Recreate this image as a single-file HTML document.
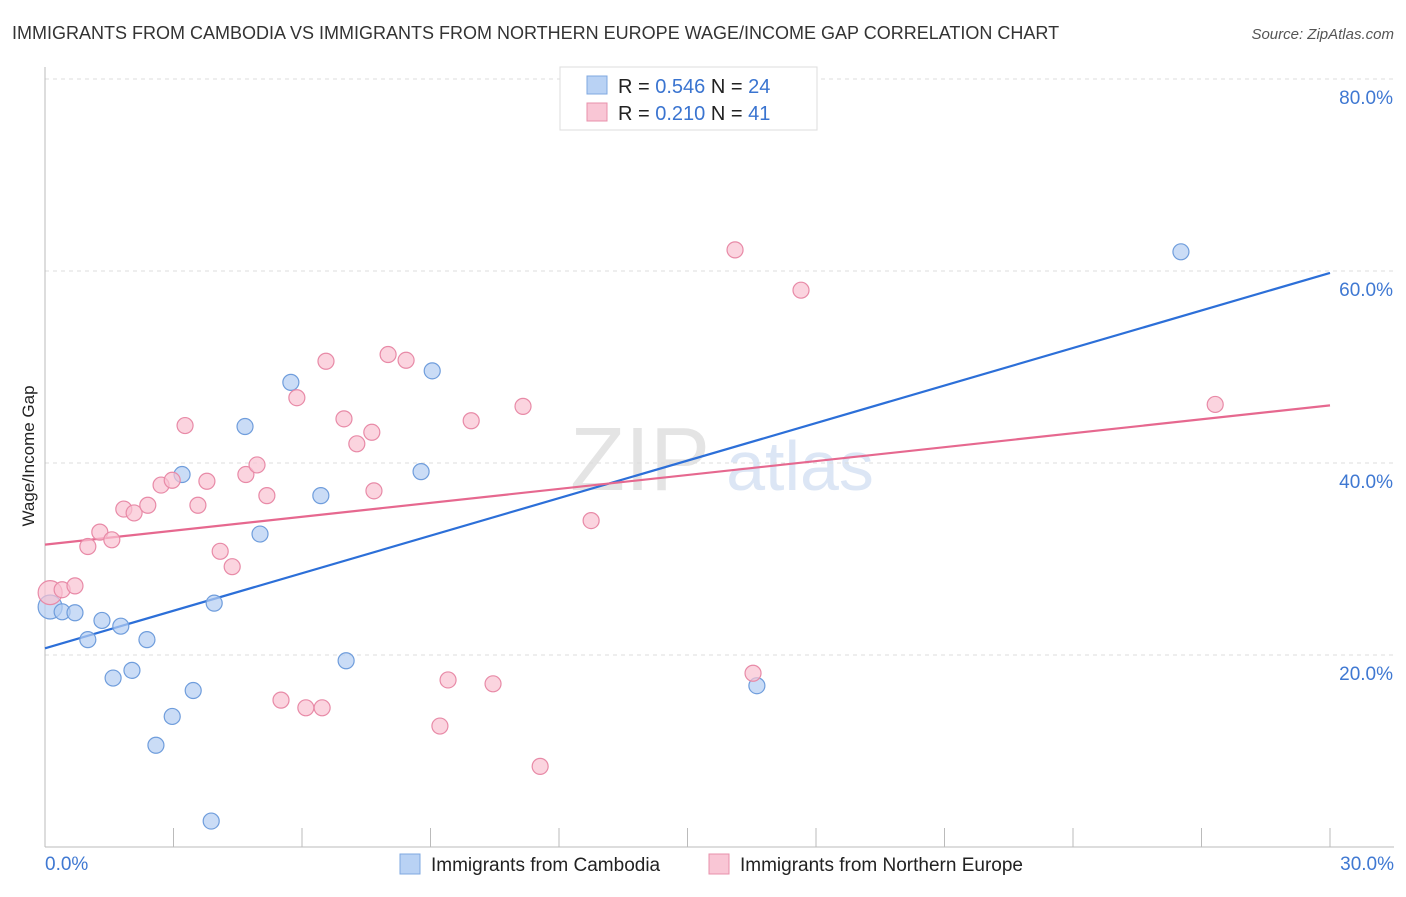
<!DOCTYPE html>
<html><head><meta charset="utf-8"><style>
body{margin:0;background:#fff;font-family:"Liberation Sans",sans-serif;}
svg text{font-family:"Liberation Sans",sans-serif;}
</style></head><body>
<svg id="chart" width="1406" height="892">
<text x="12" y="39" font-size="18" fill="#333">IMMIGRANTS FROM CAMBODIA VS IMMIGRANTS FROM NORTHERN EUROPE WAGE/INCOME GAP CORRELATION CHART</text>
<text x="1394" y="39" font-size="15" fill="#555" font-style="italic" text-anchor="end">Source: ZipAtlas.com</text>
<text x="640" y="490" font-size="90" fill="#e4e4e4" font-family="Liberation Serif" text-anchor="middle">ZIP</text>
<text x="800" y="490" font-size="70" fill="#dce6f5" text-anchor="middle">atlas</text>
<g id="grid"></g><g id="axes"></g><g id="lines"></g><g id="pts"></g>
<text transform="translate(34,456) rotate(-90)" font-size="17" fill="#222" text-anchor="middle">Wage/Income Gap</text>
<g>
<rect x="560" y="67" width="257" height="63" fill="#fff" stroke="#ddd"/>
<rect x="587" y="76" width="20" height="18" fill="#b9d2f4" stroke="#7fa8e0"/>
<rect x="587" y="103" width="20" height="18" fill="#f9c6d5" stroke="#e890ab"/>
<text x="618" y="93" font-size="20" fill="#222">R = <tspan fill="#3a74d0">0.546</tspan>   N = <tspan fill="#3a74d0">24</tspan></text>
<text x="618" y="120" font-size="20" fill="#222">R =  <tspan fill="#3a74d0">0.210</tspan>   N =  <tspan fill="#3a74d0">41</tspan></text>
</g>
<g>
<rect x="400" y="854" width="20" height="20" fill="#b9d2f4" stroke="#7fa8e0"/>
<text x="431" y="871" font-size="19" fill="#222">Immigrants from Cambodia</text>
<rect x="709" y="854" width="20" height="20" fill="#f9c6d5" stroke="#e890ab"/>
<text x="740" y="871" font-size="19" fill="#222">Immigrants from Northern Europe</text>
</g>
</svg>
<script>
const blueX=[0.12,0.40,0.70,1.00,1.33,1.59,1.77,2.03,2.38,2.59,2.97,3.20,3.46,3.88,3.95,4.67,5.02,5.74,6.44,7.03,8.78,9.04,16.62,26.52];
const blueY=[25.0,24.5,24.4,21.6,23.6,17.6,23.0,18.4,21.6,10.6,13.6,38.8,16.3,2.7,25.4,43.8,32.6,48.4,36.6,19.4,39.1,49.6,16.8,62.0];
const pinkX=[0.12,0.40,0.70,1.00,1.28,1.56,1.84,2.08,2.40,2.71,2.97,3.27,3.57,3.78,4.09,4.37,4.69,4.95,5.18,5.51,5.88,6.09,6.47,6.56,6.98,7.28,7.63,7.68,8.01,8.43,9.22,9.41,9.95,10.46,11.16,11.56,12.75,16.11,16.53,17.65,27.32];
const pinkY=[26.5,26.8,27.2,31.3,32.8,32.0,35.2,34.8,35.6,37.7,38.2,43.9,35.6,38.1,30.8,29.2,38.8,39.8,36.6,15.3,46.8,14.5,14.5,50.6,44.6,42.0,43.2,37.1,51.3,50.7,12.6,17.4,44.4,17.0,45.9,8.4,34.0,62.2,18.1,58.0,46.1];
const blueLine=[20.7,59.8];
const pinkLine=[31.5,46.0];
const yTicks=[20,40,60,80];
const xTickLabels=["0.0%","30.0%"];
const NS="http://www.w3.org/2000/svg";
const sx=v=>45+v*(1330-45)/30;
const sy=v=>847-v*9.6;
function mk(tag,attrs,parent){const e=document.createElementNS(NS,tag);for(const k in attrs)e.setAttribute(k,attrs[k]);document.getElementById(parent).appendChild(e);return e;}
yTicks.forEach(t=>{
 const g=mk('line',{x1:45,x2:1394,y1:sy(t),y2:sy(t),stroke:'#ddd','stroke-dasharray':'4,4'},'grid');
 
 
 const l=mk('text',{x:1393,y:sy(t)+25,'font-size':19,fill:'#3f78d2','text-anchor':'end'},'grid');
 l.textContent=t.toFixed(1)+'%';
 
 
});
const ya=mk('line',{x1:45,x2:45,y1:67,y2:847,stroke:'#bbb'},'axes');


const xa=mk('line',{x1:45,x2:1394,y1:847,y2:847,stroke:'#bbb'},'axes');


for(let i=1;i<=10;i++){
 const t=mk('line',{x1:sx(i*3),x2:sx(i*3),y1:828,y2:847,stroke:'#bbb'},'axes');
 
 
}
[[0,'start',45],[30,'end',1394]].forEach((d,i)=>{
 const l=mk('text',{x:d[2],y:870,'font-size':19,fill:'#3f78d2','text-anchor':d[1]},'axes');
 l.textContent=xTickLabels[i];
 
 
});
function pts(X,Y,fill,stroke,name){
 X.forEach((x,i)=>{
  const c=mk('circle',{cx:sx(x),cy:sy(Y[i]),r:i==0?12:8,fill:fill,'fill-opacity':0.7,stroke:stroke,'stroke-width':1.2},'pts');
  
  
 });
}
pts(blueX,blueY,'#b3cdf2','#6f9ddc','point-cambodia');
pts(pinkX,pinkY,'#f9c2d2','#e88aa7','point-northern-europe');
const bl=mk('line',{x1:sx(0),y1:sy(blueLine[0]),x2:sx(30),y2:sy(blueLine[1]),stroke:'#2c6fd8','stroke-width':2.2},'lines');


const pl=mk('line',{x1:sx(0),y1:sy(pinkLine[0]),x2:sx(30),y2:sy(pinkLine[1]),stroke:'#e6688f','stroke-width':2.2},'lines');


</script>
</body></html>
